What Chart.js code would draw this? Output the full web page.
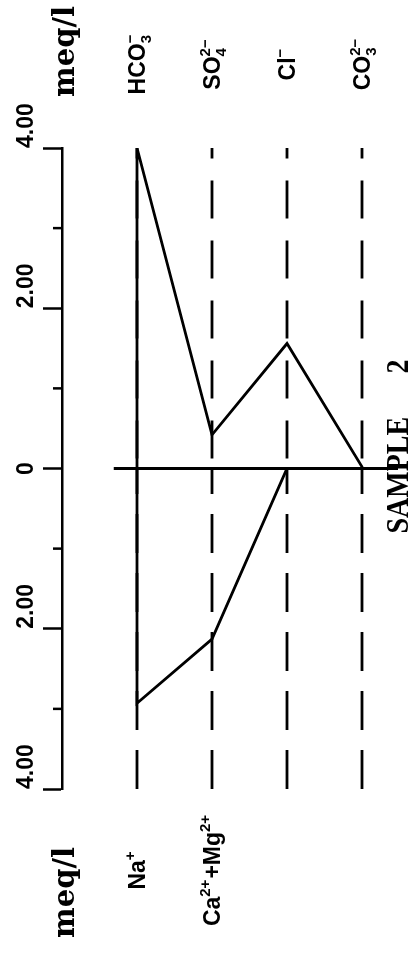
<!DOCTYPE html>
<html><head><meta charset="utf-8">
<script src="https://cdn.jsdelivr.net/npm/chart.js@4/dist/chart.umd.min.js"></script>
<style>html,body{margin:0;padding:0;background:#fff}#wrap{width:413px;height:953px;position:relative}</style>
</head><body><div id="wrap"><canvas id="c"></canvas></div>
<script>
// ---- data ----
const anionLabels = ['HCO_{3}^{−}', 'SO_{4}^{2−}', 'Cl^{−}', 'CO_{3}^{2−}'];
const cationLabels = ['Na^{+}', 'Ca^{2+}+Mg^{2+}', '', ''];
const anionValues = [4.00, 0.42, 1.56, 0.02];
const cationValues = [2.93, 2.13, 0.00, 0.00];
const tickValues = [4, 2, 0, -2, -4];
const tickLabels = ['4.00', '2.00', '0', '2.00', '4.00'];
const unitLabel = 'meq/l';
const sampleLabel = 'SAMPLE';
const sampleNumber = '2';
const baselineExtent = [0.69, 4.48];

const columns = anionLabels.map((_, i) => i + 1);

// Stiff polygon: anions on positive side, cations on negative side
const polygon = [];
anionValues.forEach((v, i) => polygon.push({x: columns[i], y: v}));
for (let i = cationValues.length - 1; i >= 0; i--) polygon.push({x: columns[i], y: -cationValues[i]});
polygon.push({x: columns[0], y: anionValues[0]});

const datasets = [{
  data: polygon, borderColor: '#000', borderWidth: 2.8, pointRadius: 0, tension: 0,
  borderJoinStyle: 'miter', fill: false, showLine: true
}, {
  data: baselineExtent.map(x => ({x, y: 0})), borderColor: '#000', borderWidth: 3,
  pointRadius: 0, showLine: true
}];
columns.forEach(c => {
  datasets.push({data: [{x: c, y: 0}, {x: c, y: 4}], borderColor: '#000', borderWidth: 2.8,
    borderDash: [38, 22], borderDashOffset: 50, pointRadius: 0, showLine: true, borderCapStyle: 'butt'});
  datasets.push({data: [{x: c, y: -4}, {x: c, y: 0}], borderColor: '#000', borderWidth: 2.8,
    borderDash: [39, 20], borderDashOffset: 0, pointRadius: 0, showLine: true, borderCapStyle: 'butt'});
});

// ---- rich text (sub/superscripts, rotated) ----
function parseRich(s) {
  const toks = [];
  let i = 0;
  while (i < s.length) {
    const ch = s[i];
    if ((ch === '_' || ch === '^') && s[i + 1] === '{') {
      const end = s.indexOf('}', i);
      const txt = s.slice(i + 2, end);
      let last = toks[toks.length - 1];
      if (!last || last.type !== 's' || last[ch === '_' ? 'sub' : 'sup']) {
        last = {type: 's', sub: '', sup: ''}; toks.push(last);
      }
      last[ch === '_' ? 'sub' : 'sup'] = txt;
      i = end + 1;
    } else {
      let last = toks[toks.length - 1];
      if (!last || last.type !== 't') { last = {type: 't', text: ''}; toks.push(last); }
      last.text += ch; i++;
    }
  }
  return toks;
}
function drawRich(ctx, s, x, y, align, size, small) {
  if (!s) return;
  const big = `bold ${size}px "Liberation Sans", Arial, sans-serif`;
  const sm = `bold ${small}px "Liberation Sans", Arial, sans-serif`;
  const toks = parseRich(s);
  let W = 0;
  toks.forEach(t => {
    if (t.type === 't') { ctx.font = big; t.w = ctx.measureText(t.text).width; }
    else { ctx.font = sm; t.w = Math.max(ctx.measureText(t.sub).width, ctx.measureText(t.sup).width) + 1; }
    W += t.w;
  });
  ctx.save();
  ctx.translate(x, y);
  ctx.rotate(-Math.PI / 2);
  ctx.fillStyle = '#000';
  ctx.textBaseline = 'alphabetic';
  ctx.textAlign = 'left';
  const b = size * 0.36;
  let p = align === 'center' ? -W / 2 : 0;
  toks.forEach(t => {
    if (t.type === 't') { ctx.font = big; ctx.fillText(t.text, p, b); }
    else {
      ctx.font = sm;
      if (t.sup) ctx.fillText(t.sup, p, b - size * 0.46);
      if (t.sub) ctx.fillText(t.sub, p, b + size * 0.25);
    }
    p += t.w;
  });
  ctx.restore();
}
function drawRot(ctx, text, x, y, font, align, sy) {
  ctx.save();
  ctx.translate(x, y);
  ctx.rotate(-Math.PI / 2);
  if (sy) ctx.scale(1, sy);
  ctx.font = font;
  ctx.fillStyle = '#000';
  ctx.textBaseline = 'alphabetic';
  ctx.textAlign = align;
  ctx.fillText(text, 0, 0);
  ctx.restore();
}

const textPlugin = {
  id: 'stiffText',
  afterDraw(chart) {
    const ctx = chart.ctx;
    const xs = chart.scales.x, ys = chart.scales.y;
    const axisX = chart.chartArea.left;
    // minor ticks
    ctx.save();
    ctx.strokeStyle = '#000'; ctx.lineWidth = 2.5;
    for (let v = -3; v <= 3; v += 2) {
      const py = ys.getPixelForValue(v);
      ctx.beginPath(); ctx.moveTo(axisX - 9, py); ctx.lineTo(axisX, py); ctx.stroke();
    }
    ctx.restore();
    // tick labels
    tickValues.forEach((v, i) => {
      drawRot(ctx, tickLabels[i], 33, ys.getPixelForValue(v),
        'bold 23px "Liberation Sans", Arial, sans-serif', v === 0 ? 'center' : 'left');
    });
    // ion labels
    columns.forEach((c, i) => {
      const px = xs.getPixelForValue(c);
      drawRich(ctx, anionLabels[i], px, 64, 'center', 23, 15);
      drawRich(ctx, cationLabels[i], px, 870, 'center', 23, 15);
    });
    // units
    const uf = 'bold 29px "DejaVu Serif", serif';
    drawRot(ctx, unitLabel, 74, ys.getPixelForValue(4) - 51, uf, 'left');
    drawRot(ctx, unitLabel, 74, ys.getPixelForValue(-4) + 149, uf, 'left');
    // sample
    const sf = 'bold 28px "Liberation Serif", "Times New Roman", serif';
    drawRot(ctx, sampleLabel, 408, ys.getPixelForValue(0) + 65, sf, 'left', 1.15);
    drawRot(ctx, sampleNumber, 408, ys.getPixelForValue(0) - 95, sf, 'left', 1.15);
  }
};

new Chart(document.getElementById('c'), {
  type: 'scatter',
  data: {datasets},
  options: {
    responsive: true, maintainAspectRatio: false, animation: false, devicePixelRatio: 1,
    layout: {padding: {left: 0, right: 13.5, top: 148, bottom: 164}},
    plugins: {legend: {display: false}, tooltip: {enabled: false}},
    elements: {line: {tension: 0}},
    scales: {
      x: {type: 'linear', min: 0, max: 4.5, display: false},
      y: {
        type: 'linear', min: -4, max: 4, position: 'left',
        afterFit(scale) { scale.width = 62; },
        ticks: {stepSize: 1, display: false},
        grid: {drawOnChartArea: false, drawTicks: true, tickLength: 19, tickWidth: 2.5,
          tickColor: c => (c.tick && c.tick.value % 2 === 0) ? '#000' : 'rgba(0,0,0,0)'},
        border: {display: true, color: '#000', width: 2.5}
      }
    }
  },
  plugins: [textPlugin]
});
</script></body></html>
